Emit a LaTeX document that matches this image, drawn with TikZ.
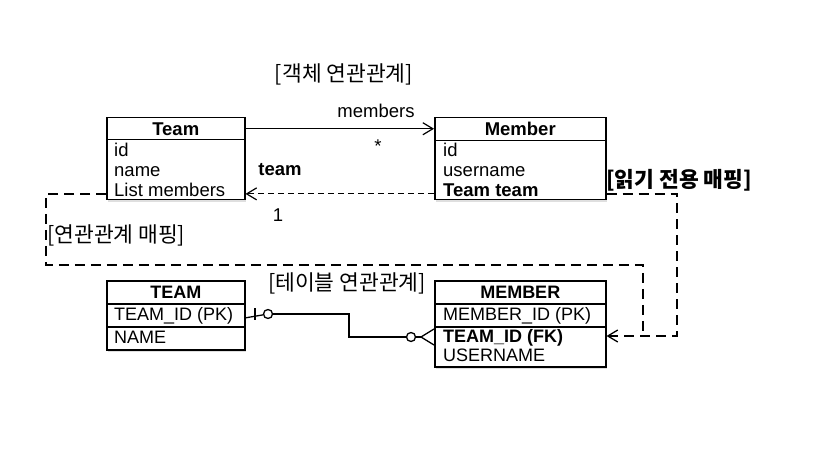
\documentclass[tikz,border=0pt]{standalone}
\usepackage{fontspec}
\setmainfont{Liberation Sans}
\newfontfamily\kr{Noto Sans CJK KR}
\usetikzlibrary{arrows.meta,shadows}

\tikzset{
  box/.style={draw,line width=1.5pt,fill=white,inner sep=0pt,anchor=north west,
    drop shadow={opacity=.25,shadow xshift=1.5pt,shadow yshift=-2pt}},
  txt/.style={anchor=base west,inner sep=0pt,font=\fontsize{18.5}{20}\selectfont},
  caps/.style={anchor=base west,inner sep=0pt,font=\fontsize{18}{20}\selectfont},
  lbl/.style={inner sep=0pt,font=\kr\fontsize{21.5}{24}\selectfont},
  open/.style={-{Straight Barb[length=10pt,width=12pt]}},
  loopline/.style={line width=1.3pt,dash pattern=on 10pt off 6pt},
  erc/.style={circle,draw,line width=1.3pt,fill=white,minimum size=9pt,inner sep=0pt}
}

\begin{document}
\begin{tikzpicture}[x=1pt,y=-1pt]
		\useasboundingbox (0,0) rectangle (816,449);
		% object side
		\node[box,minimum width=138pt,minimum height=22pt,font=\bfseries\fontsize{18.5}{20}\selectfont] (teamhead) at (106,117) {Team};
		\node[box,minimum width=138pt,minimum height=60pt] (teambody) at (106,139) {};
		\node[txt] (teamid) at (114,156.5) {id};
		\node[txt] (teamname) at (114,176.5) {name};
		\node[txt] (teamlist) at (114,196.5) {List members};
		\node[box,minimum width=171pt,minimum height=23pt,font=\bfseries\fontsize{18.5}{20}\selectfont] (memberhead) at (434,117) {Member};
		\node[box,minimum width=171pt,minimum height=59pt] (memberbody) at (434,140) {};
		\node[txt] (memberid) at (443,156.5) {id};
		\node[txt] (membername) at (443,176.5) {username};
		\node[txt,font=\bfseries\fontsize{18.5}{20}\selectfont] (memberteam) at (443,196.5) {Team team};
		% table side
		\node[box,minimum width=138pt,minimum height=23pt,font=\bfseries\fontsize{18}{20}\selectfont] (TEAMhead) at (106,280) {TEAM};
		\node[box,minimum width=138pt,minimum height=23pt] (TEAMpkrow) at (106,303) {};
		\node[box,minimum width=138pt,minimum height=23pt] (TEAMrow) at (106,326) {};
		\node[caps] (TEAMpk) at (114,320.5) {TEAM\_ID (PK)};
		\node[caps] (TEAMname) at (114,343.5) {NAME};
		\node[box,minimum width=171pt,minimum height=23pt,font=\bfseries\fontsize{18}{20}\selectfont] (MEMBERhead) at (434,280) {MEMBER};
		\node[box,minimum width=171pt,minimum height=23pt] (MEMBERpkrow) at (434,303) {};
		\node[box,minimum width=171pt,minimum height=40pt] (MEMBERrow) at (434,326) {};
		\node[caps] (MEMBERpk) at (443,320.5) {MEMBER\_ID (PK)};
		\node[caps,font=\bfseries\fontsize{18}{20}\selectfont] (MEMBERfk) at (443,342.5) {TEAM\_ID (FK)};
		\node[caps] (MEMBERname) at (443,361.5) {USERNAME};
		% labels
		\node[lbl] (objlbl) at (344,74) {[객체 연관관계]};
		\node[lbl,anchor=west] (maplbl) at (47,235) {[연관관계 매핑]};
		\node[lbl] (tbllbl) at (347,283) {[테이블 연관관계]};
		\node[lbl,font=\kr\bfseries\fontsize{21.5}{24}\selectfont] (rolbl) at (679,180) {[읽기 전용 매핑]};
		\node[txt,anchor=base] (memberslbl) at (376,118) {members};
		\node[txt,anchor=base] (starlbl) at (378,153) {*};
		\node[txt,anchor=base,font=\bfseries\fontsize{18.5}{20}\selectfont] (teamlbl) at (280,176) {team};
		\node[txt,anchor=base] (onelbl) at (278,221) {1};
		% object associations
		\draw[open,line width=1.2pt] (teamhead.east) -- (teamhead.east -| memberhead.west);
		\draw[open,line width=1.2pt,dash pattern=on 6pt off 4pt] (memberteam.mid -| memberbody.west) -- (memberteam.mid -| teambody.east);
		% mapping loops
		\coordinate (leftbend) at (46,265);
		\coordinate (innerbend) at (643,336);
		\coordinate (rightbend) at (677,336);
		\draw[loopline] (teamlist.mid -| teambody.west) -| (leftbend) -| (innerbend);
		\draw[loopline,open] (memberteam.mid -| memberbody.east) -| (rightbend) -- (rightbend -| MEMBERrow.east);
		% table relation
		\node[erc] (onecirc) at (268,314) {};
		\node[erc] (manycirc) at (411,337) {};
		\coordinate (crow) at (421,337);
		\draw[line width=1.3pt] (TEAMpk.mid -| TEAMpkrow.east) -- (onecirc);
		\draw[line width=1.3pt] (255,308) -- (255,320);
		\draw[line width=1.3pt] (onecirc) -- (349,314) |- (manycirc);
		\draw[line width=1.3pt] (manycirc) -- (crow);
		\draw[line width=1.3pt] (434,329) -- (crow) -- (434,345);
	\end{tikzpicture}
\end{document}
